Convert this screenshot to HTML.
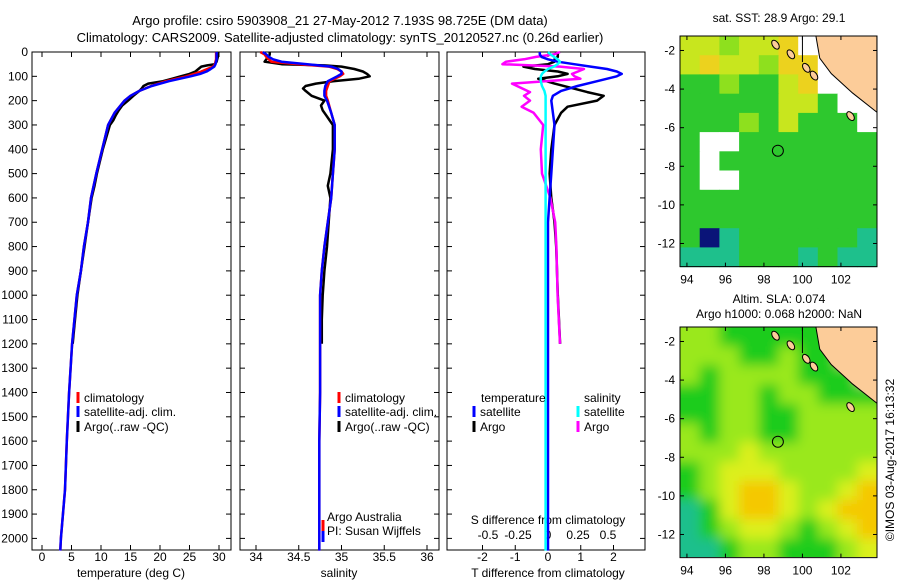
<!DOCTYPE html>
<html><head><meta charset="utf-8">
<style>
html,body{margin:0;padding:0;background:#fff;}
svg{display:block;font-family:"Liberation Sans",sans-serif;}
text{font-size:12px;fill:#000;}
</style></head>
<body>
<svg id="fig" width="900" height="580" viewBox="0 0 900 580" xmlns="http://www.w3.org/2000/svg">
<defs>
<filter id="blur" x="-5%" y="-5%" width="110%" height="110%"><feGaussianBlur stdDeviation="6"/></filter>
<clipPath id="slaclip"><rect x="680" y="327" width="197" height="230"/></clipPath>
</defs>
<text x="340" y="25" text-anchor="middle" style="font-size:13px">Argo profile: csiro 5903908_21 27-May-2012 7.193S 98.725E (DM data)</text>
<text x="340" y="42" text-anchor="middle" style="font-size:13px">Climatology: CARS2009. Satellite-adjusted climatology: synTS_20120527.nc (0.26d earlier)</text>
<text x="779" y="22" text-anchor="middle">sat. SST: 28.9 Argo: 29.1</text>
<text x="779" y="303" text-anchor="middle">Altim. SLA: 0.074</text>
<text x="779" y="318" text-anchor="middle">Argo h1000: 0.068 h2000: NaN</text>
<text transform="translate(894,460) rotate(-90)" text-anchor="middle">©IMOS 03-Aug-2017 16:13:32</text>
<g id="plots"></g>
</svg>
<script>
// ---------- data ----------
const depthClim = [0,10,20,30,40,50,60,70,80,90,100,120,140,160,180,200,250,300,400,500,600,700,800,900,1000,1200,1400,1600,1800,2000,2050];
const tempClim = [29.5,29.5,29.5,29.5,29.4,29.3,29.0,28.0,27.0,25.8,24.5,21.0,18.5,16.5,15.0,14.0,12.3,11.2,10.2,9.2,8.3,7.8,7.1,6.6,5.9,5.1,4.6,4.2,3.9,3.2,3.1];
const tempSat = [29.6,29.6,29.6,29.6,29.5,29.4,29.2,28.6,27.9,26.8,25.2,21.5,18.6,16.5,15.0,14.0,12.3,11.2,10.2,9.2,8.3,7.8,7.1,6.6,5.9,5.1,4.6,4.2,3.9,3.2,3.1];
const salClim = [34.05,34.1,34.12,34.15,34.18,34.5,34.85,34.95,35.0,35.02,34.98,34.86,34.84,34.82,34.82,34.84,34.88,34.92,34.92,34.9,34.88,34.84,34.8,34.77,34.75,34.75,34.75,34.74,34.74,34.74,34.74];
const salSat = [34.08,34.12,34.15,34.2,34.3,34.6,34.88,34.96,35.0,35.0,34.95,34.84,34.81,34.8,34.8,34.83,34.88,34.92,34.92,34.9,34.88,34.84,34.8,34.77,34.75,34.75,34.75,34.74,34.74,34.74,34.74];
const depthArgo = [0,10,20,30,40,50,55,60,70,80,90,100,110,120,130,140,150,160,180,200,220,240,260,280,300,400,500,550,600,700,800,900,1000,1100,1200];
const tempArgo = [29.8,29.8,29.8,29.7,29.6,29.3,28.0,27.0,26.5,26.0,25.0,23.5,22.0,20.5,18.0,17.2,16.9,16.5,15.5,14.6,13.6,13.0,12.5,12.1,11.5,10.3,9.3,8.9,8.4,7.8,7.2,6.6,6.0,5.6,5.2];
const salArgo = [34.16,34.16,34.15,34.12,34.1,34.3,34.8,35.0,35.15,35.25,35.3,35.33,35.2,34.9,34.7,34.58,34.55,34.58,34.65,34.8,34.76,34.78,34.82,34.86,34.9,34.9,34.87,34.84,34.87,34.85,34.83,34.8,34.78,34.77,34.77];
const tdiffSat = [-0.25,-0.25,-0.2,0.0,0.3,0.8,1.3,1.8,2.1,2.25,2.1,1.5,0.9,0.4,0.15,0.1,0.15,0.2,0.15,0.1,0.05,0.0,0.0,0.0,0.0,0.0,0.0,0.0,0.0,0.0,0.0];
const tdiffArgo = [0.3,0.3,0.3,0.2,0.2,0.0,-0.75,-0.4,0.3,0.6,0.3,-0.3,0.2,1.2,1.7,1.5,0.6,0.4,0.2,0.1,0.05,0.1,0.2,0.25,0.3,0.37];
const depthDiffArgo = [0,10,20,30,40,50,60,70,80,90,100,110,130,165,180,200,225,250,300,400,500,600,700,800,1000,1200];
const sdiffArgo = [0.1,0.05,-0.1,-0.2,-0.35,-0.38,0.1,0.3,0.25,0.2,0.22,0.27,-0.3,-0.15,-0.2,-0.15,-0.22,-0.12,-0.04,-0.06,-0.05,0.02,0.06,0.07,0.08,0.1];
const sdiffSat = [0.0,0.02,0.05,0.08,0.1,0.08,0.05,0.0,-0.03,-0.05,-0.06,-0.06,-0.05,-0.03,-0.02,-0.02,-0.02,-0.02,-0.02,-0.02,-0.02,-0.02,-0.02,-0.02,-0.02,-0.02,-0.02,-0.02,-0.02,-0.02,-0.02];
const depthTicks = [0,100,200,300,400,500,600,700,800,900,1000,1100,1200,1300,1400,1500,1600,1700,1800,1900,2000];
const tempTicks = [0,5,10,15,20,25,30];
const salTicks = [34,34.5,35,35.5,36];
const salTickLabels = ["34","34.5","35","35.5","36"];
const tdTicks = [-2,-1,0,1,2];
const sdTicks = [-0.5,-0.25,0,0.25,0.5];
const lonTicks = [94,96,98,100,102];
const latTicks = [-2,-4,-6,-8,-10,-12];
const sstGrid = ["YYyYYOWWLL","YOYYyOOWLL","GGyGGYOWWL","GGGGGYYGWW","GGGyGYGGGW","GWWGGGGGGG","GWGGGGGGGG","GWWGGGGGGG","GGGGGGGGGG","GGGGGGGGGG","GNTGGGGGGT","TTTGGGTGTT"];
const slaGrid = ["yyGGGGGGLL","yyyGGyGGLL","yGyyyyGGGL","GGyyGyyGGG","GGyyGGyyyy","yGyyGGyyyy","yyyYyyyyyy","GyYYYyyyyY","GyYOOYyyYO","TGYOOYyYOO","TGyYYyGyYO","TTGyyGGGyY"];
const argoLon = 98.725, argoLat = -7.193;

// ---------- scales ----------
const yD = d => 52 + d*0.2432;
const xT = t => 42 + t*5.9;
const xS = s => 256 + (s-34)*85.5;
const xTd = v => 548 + v*32.75;
const xSd = v => 548 + v*120;
const lonX = l => 680 + (l-93.64)*19.25;
const latY1 = l => 36 + (-1.25-l)*19.3;
const latY2 = l => 327 + (-1.25-l)*19.3;

const NS="http://www.w3.org/2000/svg";
const root=document.getElementById('plots');
function mk(tag, attrs, parent){const e=document.createElementNS(NS,tag);for(const k in attrs)e.setAttribute(k,attrs[k]);(parent||root).appendChild(e);return e;}
function txt(x,y,s,anchor,parent){const t=mk('text',{x:x,y:y,'text-anchor':anchor||'middle'},parent);t.textContent=s;return t;}

function line(xs,ds,xf,color,name,w){
  const pts=xs.map((v,i)=>xf(v).toFixed(1)+','+yD(ds[i]).toFixed(1)).join(' ');
  const p=mk('polyline',{points:pts,fill:'none',stroke:color,'stroke-width':w||2.5,'stroke-linejoin':'round'});
  
  
}

function panel(x0,x1,name){
  const g=mk('g',{});
  
  
  const r=mk('rect',{x:x0,y:52,width:x1-x0,height:498,fill:'none',stroke:'#000','stroke-width':1},g);
  
  
  depthTicks.forEach(d=>{mk('line',{x1:x0,x2:x0+5,y1:yD(d),y2:yD(d),stroke:'#000'},g);mk('line',{x1:x1,x2:x1-5,y1:yD(d),y2:yD(d),stroke:'#000'},g);});
  return g;
}
function xticks(g,ticks,xf,labels,y){
  ticks.forEach((t,i)=>{const x=xf(t);mk('line',{x1:x,x2:x,y1:52,y2:57,stroke:'#000'},g);mk('line',{x1:x,x2:x,y1:550,y2:545,stroke:'#000'},g);
    const l=txt(x,y,labels[i],'middle',g);
    
    });
}

depthTicks.forEach(d=>{const l=txt(28,yD(d)+4,String(d),'end');
  
  });

// panel 1
const g1=panel(32,231,'temperature-panel');
xticks(g1,tempTicks,xT,tempTicks.map(String),561);
const a1=txt(131,577,'temperature (deg C)','middle',g1);


line(tempArgo,depthArgo,xT,'#000','temp-argo-line');
line(tempClim,depthClim,xT,'#f00','temp-climatology-line');
line(tempSat,depthClim,xT,'#00f','temp-satellite-line');

// panel 2
const g2=panel(240,439,'salinity-panel');
xticks(g2,salTicks,xS,salTickLabels,561);
const a2=txt(339,577,'salinity','middle',g2);


line(salArgo,depthArgo,xS,'#000','sal-argo-line');
line(salClim,depthClim,xS,'#f00','sal-climatology-line');
line(salSat,depthClim,xS,'#00f','sal-satellite-line');

// panel 3
const g3=panel(447,645,'difference-panel');
xticks(g3,tdTicks,xTd,tdTicks.map(String),561);
sdTicks.forEach(t=>{const l=txt(xSd(t),539,String(t),'middle',g3);
  
  });
const a3=txt(548,577,'T difference from climatology','middle',g3);


const a4=txt(548,524,'S difference from climatology','middle',g3);


line(tdiffArgo,depthDiffArgo,xTd,'#000','tdiff-argo-line');
line(sdiffArgo,depthDiffArgo,xSd,'#f0f','sdiff-argo-line');
line(tdiffSat,depthClim,xTd,'#00f','tdiff-satellite-line');
line(sdiffSat,depthClim,xSd,'#0ff','sdiff-satellite-line');

// legends
function legEntry(x,y,color,label,name){
  const g=mk('g',{});
  
  
  mk('line',{x1:x,x2:x,y1:y-10,y2:y+1,stroke:color,'stroke-width':3},g);
  if(label) txt(x+6,y,label,'start',g);
}
legEntry(78,402,'#f00','climatology','legend-climatology');
legEntry(78,416,'#00f','satellite-adj. clim.','legend-satellite');
legEntry(78,431,'#000','Argo(..raw -QC)','legend-argo');
legEntry(339,402,'#f00','climatology','legend2-climatology');
legEntry(339,416,'#00f','satellite-adj. clim.','legend2-satellite');
legEntry(339,431,'#000','Argo(..raw -QC)','legend2-argo');
const lt=txt(481,402,'temperature','start');


const ls=txt(584,402,'salinity','start');


legEntry(474,416,'#00f','satellite','legend-t-satellite');
legEntry(474,431,'#000','Argo','legend-t-argo');
legEntry(578,416,'#0ff','satellite','legend-s-satellite');
legEntry(578,431,'#f0f','Argo','legend-s-argo');
legEntry(323,530,'#f00','','credit-mark-red');
legEntry(323,541,'#00f','','credit-mark-blue');
const c1=txt(327,521,'Argo Australia','start');


const c2=txt(327,535,'PI: Susan Wijffels','start');



// maps
const cols={G:'#2ec82e',Y:'#c8e61e',y:'#8ee01e',O:'#ecd21e',T:'#1ec08c',W:'#ffffff',L:'#fccc99',N:'#0a1478'};
const cols2={G:'#1ecc1e',Y:'#dcf01e',y:'#9ae81e',O:'#f5c800',T:'#1ec08c',L:'#fccc99'};
function drawMap(grid,pal,latY,top,name,smooth){
  const g=mk('g',{});
  
  
  const cg=mk('g',smooth?{'clip-path':'url(#slaclip)'}:{},g);
  const cells=mk('g',smooth?{filter:'url(#blur)'}:{},cg);
  const dlon=(103.87-93.64)/10, dlat=(13.2-1.25)/12;
  grid.forEach((row,r)=>{[...row].forEach((c,i)=>{
    let x=lonX(93.64+i*dlon), y=latY(-1.25-r*dlat), w=dlon*19.25+0.6, h=dlat*19.3+0.6;
    if(smooth){ if(i===0){x-=12;w+=12;} if(i===9)w+=12; if(r===0){y-=12;h+=12;} if(r===11)h+=12; }
    const cell=mk('rect',{x:x.toFixed(1),y:y.toFixed(1),width:w.toFixed(1),height:h.toFixed(1),fill:pal[c]},cells);
    
    
  });});
  const land=[[100.7,-1.25],[103.87,-1.25],[103.87,-5.2],[102.6,-4.2],[101.5,-3.2],[100.9,-2.4]];
  const lp=mk('polygon',{points:land.map(p=>lonX(p[0])+','+latY(p[1])).join(' '),fill:'#fccc99',stroke:'#000','stroke-width':1},g);
  
  
  mk('line',{x1:lonX(100),x2:lonX(100),y1:latY(-1.25),y2:latY(-2.6),stroke:'#000'},g);
  [[98.6,-1.7],[99.4,-2.2],[100.2,-2.9],[100.6,-3.3],[102.5,-5.4]].forEach(p=>{
    const e=mk('ellipse',{cx:lonX(p[0]),cy:latY(p[1]),rx:3,ry:5,fill:'#fccc99',stroke:'#000','stroke-width':1,transform:`rotate(-35 ${lonX(p[0])} ${latY(p[1])})`},g);
    
    
  });
  const ci=mk('circle',{cx:lonX(argoLon),cy:latY(argoLat),r:5.5,fill:'none',stroke:'#000','stroke-width':1},g);
  
  
  const fr=mk('rect',{x:680,y:top,width:197,height:latY(-13.2)-top,fill:'none',stroke:'#000','stroke-width':1},g);
  
  
  latTicks.forEach(l=>{const y=latY(l);mk('line',{x1:680,x2:684,y1:y,y2:y,stroke:'#000'},g);mk('line',{x1:877,x2:873,y1:y,y2:y,stroke:'#000'},g);
    const t=txt(675,y+4,String(l),'end',g);
    
    });
  const bottom=latY(-13.2);
  lonTicks.forEach(l=>{const x=lonX(l);mk('line',{x1:x,x2:x,y1:bottom,y2:bottom-4,stroke:'#000'},g);mk('line',{x1:x,x2:x,y1:top,y2:top+4,stroke:'#000'},g);
    const t=txt(x,bottom+17,String(l),'middle',g);
    
    });
}
drawMap(sstGrid,cols,latY1,36,'sst-map',false);
drawMap(slaGrid,cols2,latY2,327,'sla-map',true);
</script>
</body></html>
